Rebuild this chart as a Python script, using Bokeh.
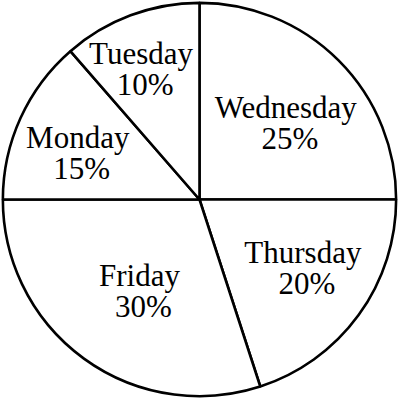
import math
from bokeh.plotting import figure
from bokeh.models import ColumnDataSource
from bokeh.core.properties import value
from bokeh.embed import file_html
from bokeh.resources import INLINE

days = ["Wednesday", "Thursday", "Friday", "Monday", "Tuesday"]
labels = ["25%", "20%", "30%", "15%", "10%"]
# slice sizes as drawn in the picture (percent of the circle)
drawn = [25, 20, 30, 13.6, 11.4]

# label layout (radius fraction, angle nudge in degrees)
label_r = [0.60, 0.62, 0.54, 0.67, 0.745]
label_nudge = [-2, 4, 1.6, 2, 3]

total = sum(drawn)
starts, ends, lx, ly = [], [], [], []
cum = 0.0
for s, r, nd in zip(drawn, label_r, label_nudge):
    a0 = math.pi / 2 - 2 * math.pi * cum / total
    cum += s
    a1 = math.pi / 2 - 2 * math.pi * cum / total
    starts.append(a0)
    ends.append(a1)
    mid = (a0 + a1) / 2 + math.radians(nd)
    lx.append(r * math.cos(mid))
    ly.append(r * math.sin(mid))

src = ColumnDataSource(dict(start=starts, end=ends, x=lx, y=ly, name=days, pct=labels))

p = figure(width=398, height=398, x_range=(-1.012, 1.012), y_range=(-1.012, 1.012),
           output_backend="svg", toolbar_location=None, min_border=0,
           outline_line_color=None)
p.axis.visible = False
p.grid.visible = False
p.background_fill_color = "white"

p.wedge(x=0, y=0, radius=1.0, start_angle="start", end_angle="end", direction="clock",
        fill_color="white", line_color="black", line_width=2.6, source=src)

font = value("Liberation Serif")
p.text(x="x", y="y", text="name", source=src, text_font=font, text_font_size="31px",
       text_align="center", text_baseline="alphabetic", y_offset=-12, text_color="black")
p.text(x="x", y="y", text="pct", source=src, text_font=font, text_font_size="31px",
       text_align="center", text_baseline="alphabetic", x_offset=4, y_offset=19,
       text_color="black")

open("out.html", "w").write(file_html(p, INLINE))
